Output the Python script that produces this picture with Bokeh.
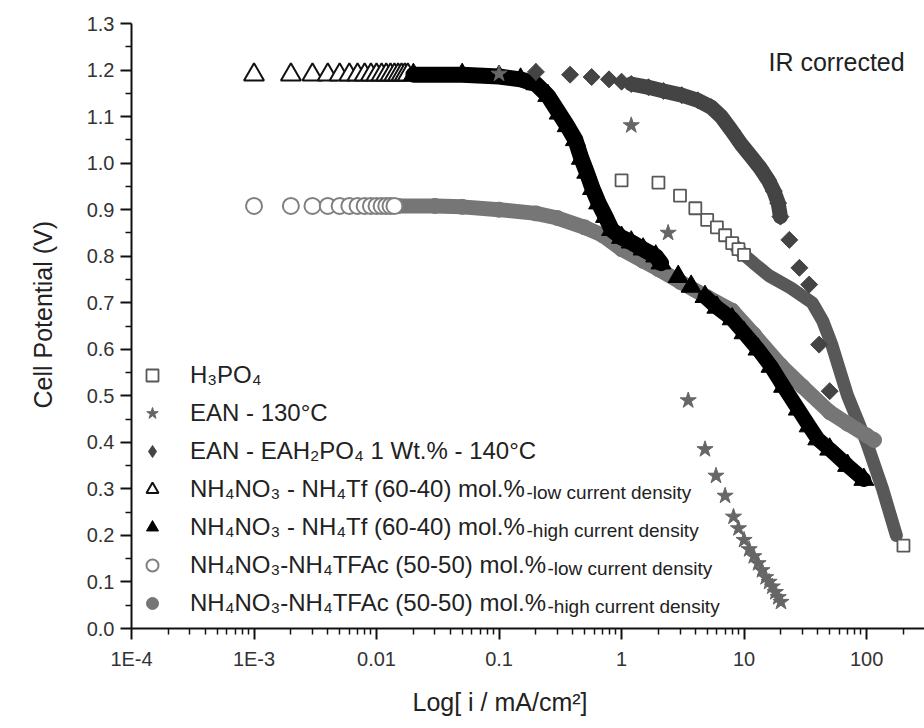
import math
from bokeh.plotting import figure
from bokeh.models import FixedTicker, Label, Legend, LegendItem, PrintfTickFormatter, Title
from bokeh.core.properties import value
from bokeh.embed import file_html
from bokeh.resources import INLINE

# ---------------- data ----------------
# H3PO4 (open squares)
h3_i = [1, 2, 3, 4, 5, 6, 7, 8, 9, 10, 12, 16, 24, 36, 44, 52, 70, 100, 135, 175, 200]
h3_v = [0.963, 0.958, 0.930, 0.903, 0.878, 0.862, 0.845, 0.828, 0.815, 0.803, 0.785,
        0.758, 0.732, 0.700, 0.660, 0.610, 0.500, 0.400, 0.300, 0.200, 0.178]

# EAN - 130 C (stars)
ean_i = [0.1, 1.2, 2.4, 3.5, 4.8, 5.9, 7.0, 8.2, 9, 10, 11, 12, 13, 14, 15, 16, 17, 18, 19, 20]
ean_v = [1.192, 1.081, 0.850, 0.490, 0.385, 0.328, 0.285, 0.240, 0.215, 0.190, 0.170,
         0.155, 0.140, 0.125, 0.110, 0.100, 0.090, 0.078, 0.067, 0.057]

# EAN - EAH2PO4 1 wt.% - 140 C (diamonds)
eah_i = [0.2, 0.38, 0.57, 0.79, 1.0, 1.2, 1.66, 2.2, 3.1, 4.2, 5.4, 6.5, 7.9, 9.5, 11.5,
         13.5, 15.8, 17.5, 19.0, 19.8, 23.4, 28.3, 34, 41, 50]
eah_v = [1.196, 1.190, 1.185, 1.180, 1.175, 1.170, 1.163, 1.155, 1.146, 1.135, 1.120,
         1.100, 1.070, 1.040, 1.013, 0.990, 0.963, 0.940, 0.914, 0.885, 0.835, 0.775,
         0.739, 0.610, 0.510]

# NH4NO3 - NH4Tf (60-40) low current density (open triangles)
tf_lo_i = [0.001, 0.002, 0.003, 0.004, 0.005, 0.006, 0.007, 0.008, 0.009, 0.010,
           0.011, 0.012, 0.013, 0.014, 0.015, 0.016, 0.017, 0.018]
tf_lo_v = [1.19, 1.19, 1.19, 1.19, 1.19, 1.19, 1.19, 1.19, 1.19, 1.19,
           1.19, 1.19, 1.19, 1.19, 1.19, 1.19, 1.19, 1.19]

# NH4NO3 - NH4Tf (60-40) high current density (filled triangles)
tf_hi_i = [0.02, 0.05, 0.1, 0.15, 0.2, 0.25, 0.31, 0.36, 0.42, 0.47, 0.52, 0.58, 0.65,
           0.74, 0.83, 1.0, 1.2, 1.5, 1.9, 2.1, 2.9, 3.7, 4.8, 6, 8, 10, 13, 16.6, 21,
           27.7, 34, 40, 50, 70, 95]
tf_hi_v = [1.190, 1.190, 1.186, 1.180, 1.170, 1.145, 1.107, 1.080, 1.050, 1.010, 0.980,
           0.945, 0.914, 0.885, 0.857, 0.840, 0.830, 0.815, 0.800, 0.785, 0.756, 0.735,
           0.713, 0.690, 0.665, 0.635, 0.600, 0.563, 0.520, 0.471, 0.435, 0.407, 0.385,
           0.350, 0.320]

# NH4NO3 - NH4TFAc (50-50) low current density (open circles)
tfa_lo_i = [0.001, 0.002, 0.003, 0.004, 0.005, 0.006, 0.007, 0.008, 0.009, 0.010,
            0.011, 0.012, 0.013, 0.014]
tfa_lo_v = [0.908, 0.908, 0.908, 0.908, 0.908, 0.908, 0.908, 0.908, 0.908, 0.908,
            0.908, 0.908, 0.908, 0.908]

# NH4NO3 - NH4TFAc (50-50) high current density (filled circles)
tfa_hi_i = [0.015, 0.03, 0.05, 0.1, 0.2, 0.3, 0.5, 0.7, 1.0, 1.5, 2, 3, 5, 8, 12, 20,
            30, 50, 70, 100, 115]
tfa_hi_v = [0.908, 0.908, 0.906, 0.900, 0.892, 0.882, 0.862, 0.845, 0.815, 0.790, 0.772,
            0.745, 0.712, 0.683, 0.632, 0.565, 0.520, 0.465, 0.440, 0.415, 0.405]

x_major = [1e-4, 1e-3, 0.01, 0.1, 1, 10, 100]
x_labels = ["1E-4", "1E-3", "0.01", "0.1", "1", "10", "100"]
y_major = [0.0, 0.1, 0.2, 0.3, 0.4, 0.5, 0.6, 0.7, 0.8, 0.9, 1.0, 1.1, 1.2, 1.3]

legend_labels = [
    "H\u2083PO\u2084",
    "EAN - 130\u00b0C",
    "EAN - EAH\u2082PO\u2084 1 Wt.% - 140\u00b0C",
    "NH\u2084NO\u2083 - NH\u2084Tf (60-40) mol.%",
    "NH\u2084NO\u2083 - NH\u2084Tf (60-40) mol.%",
    "NH\u2084NO\u2083-NH\u2084TFAc (50-50) mol.%",
    "NH\u2084NO\u2083-NH\u2084TFAc (50-50) mol.%",
]
legend_suffix = ["", "", "", "-low current density", "-high current density",
                 "-low current density", "-high current density"]

x_title = "Log[ i / mA/cm\u00b2]"
y_title = "Cell Potential (V)"
note = "IR corrected"

# ---------------- figure ----------------
FONT = "Liberation Sans"
p = figure(width=924, height=728, x_axis_type="log", x_range=(1e-4, 297), y_range=(0, 1.3),
           output_backend="svg", toolbar_location=None,
           min_border_left=131, min_border_right=0, min_border_top=23, min_border_bottom=98)
p.outline_line_color = None
p.xgrid.visible = False
p.ygrid.visible = False
p.background_fill_color = "white"
p.border_fill_color = "white"

x_minor = [k * d for d in [1e-4, 1e-3, 0.01, 0.1, 1, 10, 100] for k in range(2, 10)]
p.xaxis.ticker = FixedTicker(ticks=x_major, minor_ticks=x_minor)
p.xaxis.major_label_overrides = dict(zip(x_major, x_labels))
y_minor = [round(0.05 + 0.1 * k, 2) for k in range(13)]
p.yaxis.ticker = FixedTicker(ticks=y_major, minor_ticks=y_minor)
p.yaxis.formatter = PrintfTickFormatter(format="%.1f")

for ax in (p.xaxis[0], p.yaxis[0]):
    ax.axis_line_width = 2
    ax.axis_line_color = "#111111"
    ax.major_tick_line_width = 2
    ax.minor_tick_line_width = 1.5
    ax.major_tick_line_color = "#111111"
    ax.minor_tick_line_color = "#111111"
    ax.major_tick_in = 0
    ax.minor_tick_in = 0
    ax.major_tick_out = 11
    ax.minor_tick_out = 6
    ax.major_label_text_font = FONT
    ax.major_label_text_font_size = "20px"
    ax.major_label_text_color = "#333333"

p.xaxis.major_label_standoff = 8
p.yaxis.major_label_standoff = 6

SQ = "#585858"
STAR = "#666666"
DIA = "#444444"
GRAY = "#767676"

# H3PO4 band (dense overlapping squares) + distinct squares
p.line(h3_i[7:20], h3_v[7:20], line_width=13, line_color=SQ, line_join="round", line_cap="round")
sq_x = h3_i[:10] + h3_i[-1:]
sq_y = h3_v[:10] + h3_v[-1:]
r_sq = p.scatter(sq_x, sq_y, marker="square", size=12, fill_color="white",
                 line_color=SQ, line_width=1.8)

# filled circles band (gray)
p.line(tfa_hi_i, tfa_hi_v, line_width=15, line_color=GRAY, line_join="round", line_cap="round")
r_ch = p.scatter(tfa_hi_i, tfa_hi_v, marker="circle", size=15, fill_color=GRAY, line_color=GRAY)

# open triangles
r_to = p.scatter(tf_lo_i, tf_lo_v, marker="triangle", size=20, fill_color="white",
                 line_color="#111111", line_width=2)
# open circles
r_co = p.scatter(tfa_lo_i, tfa_lo_v, marker="circle", size=16, fill_color="white",
                 line_color="#808080", line_width=2)

# filled triangles band (black)
p.line(tf_hi_i[:20], tf_hi_v[:20], line_width=16, line_color="black", line_join="round", line_cap="round")
p.line(tf_hi_i[22:], tf_hi_v[22:], line_width=15, line_color="black", line_join="round", line_cap="round")
r_th = p.scatter(tf_hi_i, tf_hi_v, marker="triangle", size=20, fill_color="black", line_color="black")

# diamonds (legend glyph uses a diamond hidden under the first rotated square)
r_di = p.scatter(eah_i[:1], eah_v[:1], marker="diamond", size=17, fill_color=DIA, line_color=DIA)
p.line(eah_i[5:20], eah_v[5:20], line_width=15, line_color=DIA, line_join="round", line_cap="round")
p.scatter(eah_i, eah_v, marker="square", angle=math.pi / 4, size=12, fill_color=DIA, line_color=DIA)

# stars
r_st = p.scatter(ean_i, ean_v, marker="star", size=17, fill_color=STAR, line_color=STAR)

items = [LegendItem(label=value(t), renderers=[r])
         for t, r in zip(legend_labels, [r_sq, r_st, r_di, r_to, r_th, r_co, r_ch])]
legend = Legend(items=items, location=(6, 10), orientation="vertical",
                border_line_color=None, background_fill_alpha=0, padding=0, margin=0,
                spacing=8, glyph_width=30, glyph_height=30, label_height=30,
                label_standoff=23, label_text_font=FONT, label_text_font_size="24px",
                label_text_color="#222222")
p.add_layout(legend)

# smaller trailing parts of legend entries
row_base = [630 - (377 + 38 * k + 3) for k in range(7)]
suffix_x = [0, 0, 0, 395, 395, 416, 416]
for k, s in enumerate(legend_suffix):
    if s:
        p.add_layout(Label(x=suffix_x[k], y=row_base[k], x_units="screen", y_units="screen",
                           text=s, text_font=FONT, text_font_size="19px",
                           text_color="#222222", text_baseline="alphabetic"))

p.add_layout(Label(x=637, y=567, x_units="screen", y_units="screen", text=note,
                   text_font=FONT, text_font_size="25px", text_color="#222222",
                   text_baseline="alphabetic"))

# axis titles as side titles (left-anchored with an offset, like the reference)
p.add_layout(Title(text=x_title, align="left", offset=281, standoff=26,
                   text_font=FONT, text_font_size="25px", text_font_style="normal",
                   text_color="#222222"), "below")
p.add_layout(Title(text=y_title, align="left", offset=220, standoff=50,
                   vertical_align="top",
                   text_font=FONT, text_font_size="25px", text_font_style="normal",
                   text_color="#222222"), "left")

open("out.html", "w").write(file_html(p, INLINE))
